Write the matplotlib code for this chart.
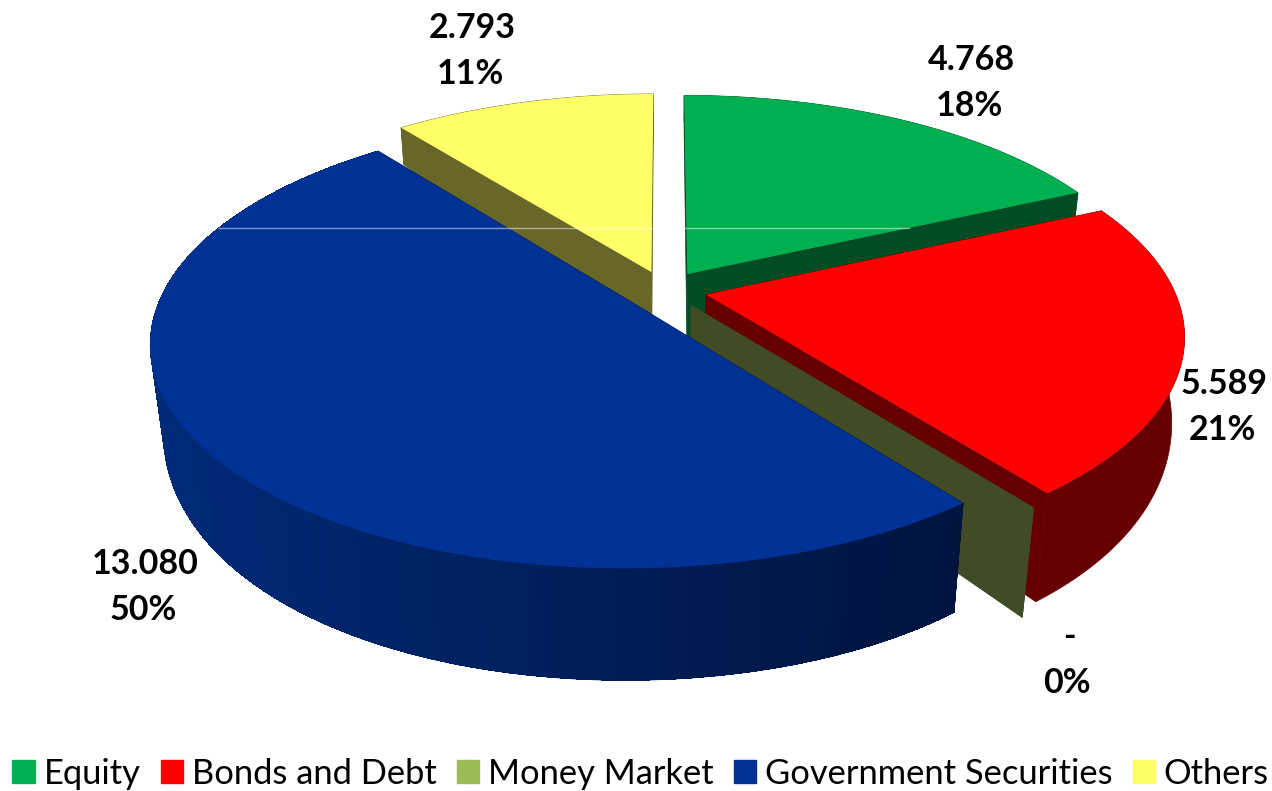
import numpy as np
import matplotlib
matplotlib.use('Agg')
import matplotlib.pyplot as plt
from matplotlib.patches import Patch

categories = ['Equity', 'Bonds and Debt', 'Money Market', 'Government Securities', 'Others']
values = [4.768, 5.589, 0.0, 13.080, 2.793]
top_colors = ['#00B050', '#FF0000', '#9BBB59', '#003296', '#FFFF66']
radial_colors = ['#004C23', '#660000', '#414B26', '#00143E', '#69662A']
rim_left = ['#004C23', '#660000', '#414B26', '#002A78', '#69662A']
rim_right = ['#004C23', '#660000', '#414B26', '#00143E', '#69662A']
label_xy = [(971, 60), (1224, 384), (1069, 637), (145, 564), (472, 28)]
draw_order = [4, 0, 1, 2, 3]

# projection of the pie plane, in pixels
CX, CY = 665.0, 290.0
RX, RY = 468.0, 215.0
PERSP = 0.175
EXPLODE = 0.09


def project(u, v):
    w = 1 + PERSP * v
    return CX + RX * u / w, CY - RY * v / w


def drop(x, y):
    # bottom of the slab: nearer points hang lower, and lean to the middle
    dy = 37 + 0.1935 * (y - 128) - 0.00034 * (y - 128) * (y - 500)
    dx = -(x - CX) * 0.00028 * dy
    return x + dx, y + dy


def mix(c1, c2, t):
    a = np.array(matplotlib.colors.to_rgb(c1))
    b = np.array(matplotlib.colors.to_rgb(c2))
    return tuple(a + (b - a) * t)


fig = plt.figure(figsize=(12.72, 7.91), dpi=100)
ax = fig.add_axes([0, 0, 1, 1])
ax.set_xlim(0, 1272)
ax.set_ylim(791, 0)
ax.axis('off')

total = sum(values)
fracs = np.array(values) / total
starts = np.concatenate([[0], np.cumsum(fracs)[:-1]]) * 2 * np.pi
ends = starts + fracs * 2 * np.pi

for i in draw_order:
    a0, a1 = starts[i], ends[i]
    mid = (a0 + a1) / 2
    ou, ov = EXPLODE * np.sin(mid), EXPLODE * np.cos(mid)
    theta = np.linspace(a0, a1, max(2, int(np.degrees(a1 - a0)) * 2))
    xt, yt = project(ou + np.sin(theta), ov + np.cos(theta))
    xb, yb = drop(xt, yt)
    ax0, ay0 = project(ou, ov)
    bx0, by0 = drop(ax0, ay0)

    # radial walls
    ax.fill([ax0, xt[0], xb[0], bx0], [ay0, yt[0], yb[0], by0],
            color=radial_colors[i], lw=0.5)
    ax.fill([ax0, xt[-1], xb[-1], bx0], [ay0, yt[-1], yb[-1], by0],
            color=radial_colors[i], lw=0.5)

    # outer rim: one flat piece, then bands shaded from left to right
    ax.fill(np.r_[xt, xb[::-1]], np.r_[yt, yb[::-1]], color=rim_right[i], lw=0.5)
    if rim_left[i] != rim_right[i]:
        for j in range(len(theta) - 1):
            t = np.clip((xt[j] - 150) / (965 - 150), 0, 1)
            ax.fill([xt[j], xt[j + 1], xb[j + 1], xb[j]], [yt[j], yt[j + 1], yb[j + 1], yb[j]],
                    color=mix(rim_left[i], rim_right[i], t), lw=0, antialiased=False)

    if values[i] > 0:
        ax.fill(np.r_[ax0, xt], np.r_[ay0, yt], color=top_colors[i], lw=0)

# thin light scan line that runs through the picture
ax.hlines(227.5, 218, 910, color='white', lw=1, alpha=0.5)

for i, (x, y) in enumerate(label_xy):
    amount = '-' if values[i] == 0 else f'{values[i]:.3f}'
    ax.text(x, y, amount, ha='center', va='center', fontsize=24.5, fontweight='bold', family='Lato')
    ax.text(x - 2, y + 46, f'{fracs[i] * 100:.0f}%', ha='center', va='center',
            fontsize=24.5, fontweight='bold', family='Lato')

handles = [Patch(color=c, label=n) for c, n in zip(top_colors, categories)]
ax.legend(handles=handles, loc='lower center', bbox_to_anchor=(0.5036, -0.029), ncol=5, frameon=False,
          prop={'family': 'Lato', 'size': 24.8}, handlelength=0.65, handleheight=0.65,
          handletextpad=0.25, columnspacing=0.59, borderpad=0.2)

fig.savefig('out.png', dpi=100)
